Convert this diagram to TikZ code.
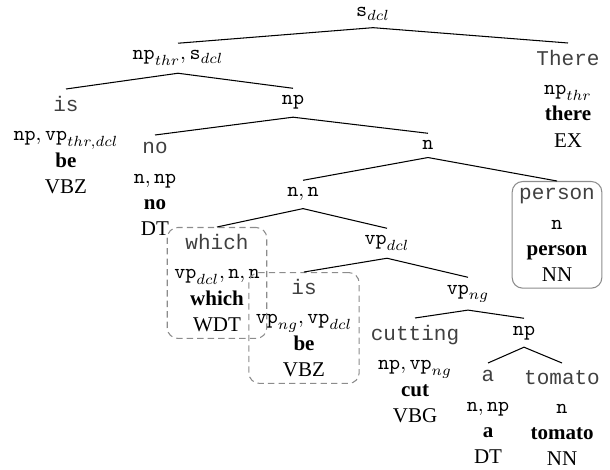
\documentclass[tikz,border=0pt]{standalone}
\usepackage{fontspec}
\setmainfont{Liberation Serif}
\newfontfamily\wordfont{Liberation Mono}
\newcommand{\cat}[1]{\texttt{#1}}
\newcommand{\stack}[4]{{\wordfont\color{black!75}#1}\\[1.5pt]#2\\\textbf{#3}\\#4}

\begin{document}
\begin{tikzpicture}[x=0.476pt,y=-0.476pt,line width=0.5pt,
    every node/.style={font=\fontsize{10}{12.4}\selectfont}]
                \tikzstyle{catnode}=[anchor=base]
                \tikzstyle{stacknode}=[anchor=north,align=center]
                \tikzstyle{boxnode}=[stacknode,draw=black!45,rounded corners=5pt]
                \tikzstyle{dashnode}=[boxnode,dash pattern=on 3pt off 2pt]
                \useasboundingbox (0,0) rectangle (610,470);
                        \node[catnode] (T-0) at (373, 17){$\cat{s}_{dcl}$};
                        \node[catnode] (T-1) at (178, 60){$\cat{np}_{thr}, \cat{s}_{dcl}$};
                        \node[stacknode] (T-2) at (568, 43){\stack{There}{$\cat{np}_{thr}$}{there}{EX}};
                        \node[stacknode] (T-3) at (66, 89){\stack{is}{$\cat{np}, \cat{vp}_{thr,dcl}$}{be}{VBZ}};
                        \node[catnode] (T-4) at (293, 105){$\cat{np}$};
                        \node[stacknode] (T-5) at (155, 135){\stack{no}{$\cat{n}, \cat{np}$}{no}{DT}};
                        \node[catnode] (T-6) at (428, 150){$\cat{n}$};
                        \node[catnode] (T-7) at (303, 197){$\cat{n}, \cat{n}$};
                        \node[boxnode] (T-8) at (557, 181){\stack{person}{$\cat{n}$}{person}{NN}};
                        \node[dashnode] (T-9) at (217, 227){\stack{which}{$\cat{vp}_{dcl}, \cat{n}, \cat{n}$}{which}{WDT}};
                        \node[catnode] (T-10) at (387, 245){$\cat{vp}_{dcl}$};
                        \node[dashnode] (T-11) at (304, 272){\stack{is}{$\cat{vp}_{ng}, \cat{vp}_{dcl}$}{be}{VBZ}};
                        \node[catnode] (T-12) at (468, 294){$\cat{vp}_{ng}$};
                        \node[stacknode] (T-13) at (415, 318){\stack{cutting}{$\cat{np}, \cat{vp}_{ng}$}{cut}{VBG}};
                        \node[catnode] (T-14) at (524, 335){$\cat{np}$};
                        \node[stacknode] (T-15) at (488, 363){\stack{a}{$\cat{n}, \cat{np}$}{a}{DT}};
                        \node[stacknode] (T-16) at (562, 363){\stack{tomato}{$\cat{n}$}{tomato}{NN}};

                    \foreach \from/\to in {0/1, 0/2, 1/3, 1/4, 4/5, 4/6, 6/7, 6/8, 7/9, 7/10, 10/11, 10/12, 12/13, 12/14, 14/15, 14/16}
                        \draw (T-\from.south) -- (T-\to.north);
            \end{tikzpicture}
\end{document}
